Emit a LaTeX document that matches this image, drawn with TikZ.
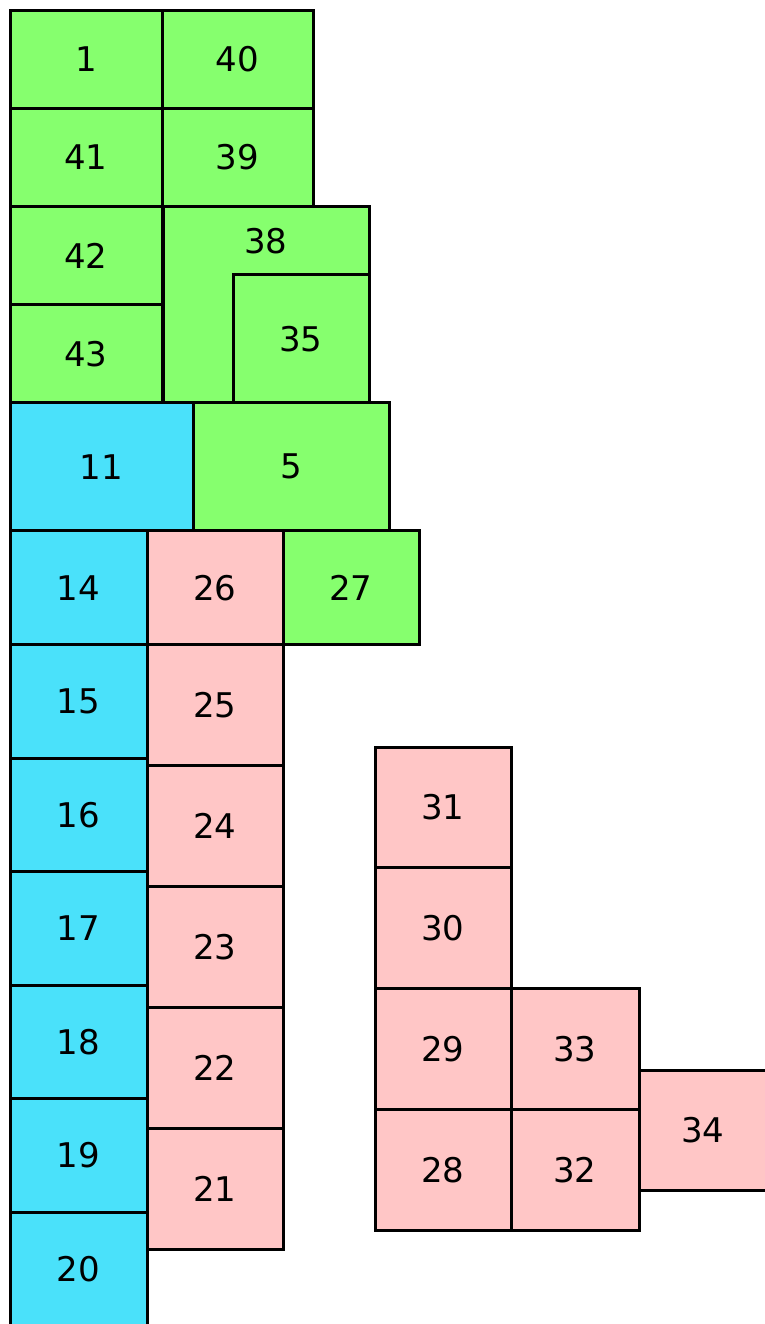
\documentclass[tikz,border=0pt]{standalone}
\usepackage{fontspec}
\setmainfont{DejaVu Sans}
\usetikzlibrary{positioning}
\definecolor{mapGreen}{HTML}{86FF6E}
\definecolor{mapCyan}{HTML}{4AE1FA}
\definecolor{mapPink}{HTML}{FFC6C6}

\begin{document}
\begin{tikzpicture}[
  node distance=0pt,
  tile/.style={
    rectangle, draw=black, fill=#1, line width=1.5pt,
    inner sep=0pt, outer sep=0pt,
    font=\fontsize{17}{20}\selectfont,
  },
  greentile/.style={tile=mapGreen, minimum width=76pt, minimum height=49.1pt},
  cyantile/.style={tile=mapCyan, minimum width=68.5pt, minimum height=56.75pt},
  pinktile/.style={tile=mapPink, minimum width=68pt, minimum height=60.5pt},
  lowtile/.style={tile=mapPink, minimum width=#1, minimum height=60.4pt},
  numtext/.style={inner sep=0pt, font=\fontsize{17}{20}\selectfont},
]
\useasboundingbox (0,0) rectangle (382.5pt,-662pt);

% Green block
\node[greentile, anchor=north west] (n1) at (5pt,-5pt) {1};
\node[greentile, minimum width=75.5pt, right=of n1] (n40) {40};
\node[greentile, below=of n1] (n41) {41};
\node[greentile, minimum width=75.5pt, below=of n40] (n39) {39};
\node[greentile, below=of n41] (n42) {42};
\node[greentile, below=of n42] (n43) {43};
\node[tile=mapGreen, minimum width=103pt, minimum height=98.2pt,
  anchor=north west] (n38) at ([xshift=0.5pt]n39.south west) {};
\node[numtext, yshift=-17.5pt] (t38) at (n38.north) {38};
\node[tile=mapGreen, minimum width=68pt, minimum height=64pt,
  anchor=south east] (n35) at (n38.south east) {35};

% Middle band
\node[tile=mapCyan, minimum width=91.5pt, minimum height=64pt,
  below right=of n43.south west] (n11) {11};
\node[tile=mapGreen, minimum width=98pt, minimum height=64pt, right=of n11] (n5) {5};
\node[cyantile, minimum height=57pt, below right=of n11.south west] (n14) {14};
\node[pinktile, minimum height=57pt, right=of n14] (n26) {26};
\node[tile=mapGreen, minimum width=68pt, minimum height=57pt, right=of n26] (n27) {27};

% Columns
\foreach \i [remember=\i as \lasti (initially 14)] in {15,...,20}
  \node[cyantile, below=of n\lasti] (n\i) {\i};
\foreach \i [remember=\i as \lasti (initially 26)] in {25,24,...,21}
  \node[pinktile, below=of n\lasti] (n\i) {\i};

% Lower right group
\node[lowtile=68pt, anchor=north west] (n31) at (187.5pt,-373.5pt) {31};
\node[lowtile=68pt, below=of n31] (n30) {30};
\node[lowtile=68pt, below=of n30] (n29) {29};
\node[lowtile=68pt, below=of n29] (n28) {28};
\node[lowtile=64pt, right=of n29] (n33) {33};
\node[lowtile=64pt, right=of n28] (n32) {32};
\node[tile=mapPink, minimum width=64pt, minimum height=60pt,
  anchor=north west] (n34) at (319.5pt,-535pt) {34};

\end{tikzpicture}
\end{document}
